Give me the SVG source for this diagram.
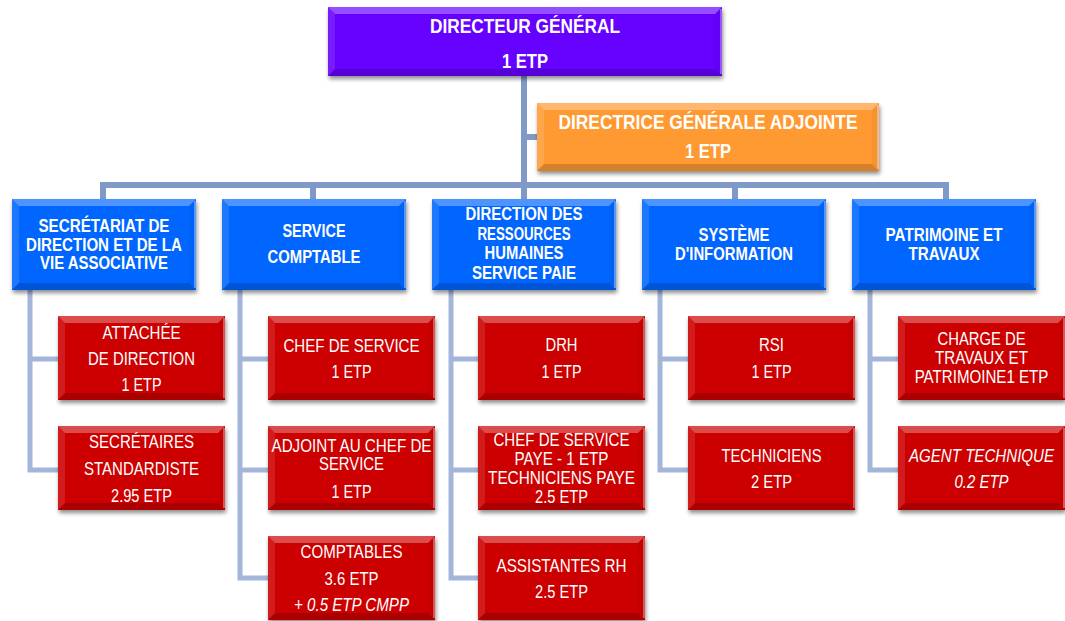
<svg xmlns="http://www.w3.org/2000/svg" xmlns:xlink="http://www.w3.org/1999/xlink" width="1065" height="621" viewBox="0 0 1065 621">
  <style>
    .t { font-family: "Liberation Sans", Arial, sans-serif; fill: #ffffff; text-anchor: middle; }
    .big { font-size: 21px; font-weight: bold; }
    .mid { font-size: 18px; font-weight: bold; }
    .sm { font-size: 18px; }
    .it { font-style: italic; }
    .bt { fill: #ffffff; fill-opacity: 0.30; }
    .bl { fill: #ffffff; fill-opacity: 0.12; }
    .bb { fill: #000000; fill-opacity: 0.16; }
    .br { fill: #000000; fill-opacity: 0.04; }
    .edge { stroke: #ffffff; stroke-opacity: 0.45; stroke-width: 1.5; }
    .link-main { fill: none; stroke: #7f99c8; stroke-width: 6; }
    .link-sub { fill: none; stroke: #a3b6da; stroke-width: 5; }
  </style>
  <defs>
    <filter id="shadow" x="-10%" y="-10%" width="125%" height="135%">
      <feGaussianBlur in="SourceAlpha" stdDeviation="2.2"/>
      <feOffset dx="1" dy="3" result="off"/>
      <feComponentTransfer><feFuncA type="linear" slope="0.45"/></feComponentTransfer>
      <feMerge><feMergeNode/><feMergeNode in="SourceGraphic"/></feMerge>
    </filter>
    <!-- bevelled box shapes, one per size -->
    <g id="box-dg">
      <rect width="394" height="69" fill="#6600ff"/>
      <polygon class="bt" points="0,0 394,0 387,7 7,7"/>
      <polygon class="bl" points="0,0 7,7 7,62 0,69"/>
      <polygon class="bb" points="0,69 7,62 387,62 394,69"/>
      <polygon class="br" points="394,0 394,69 387,62 387,7"/>
      <line class="edge" x1="393" y1="2" x2="393" y2="67"/>
    </g>
    <g id="box-dga">
      <rect width="342" height="68" fill="#ff9933"/>
      <polygon class="bt" points="0,0 342,0 335,7 7,7"/>
      <polygon class="bl" points="0,0 7,7 7,61 0,68"/>
      <polygon class="bb" points="0,68 7,61 335,61 342,68"/>
      <polygon class="br" points="342,0 342,68 335,61 335,7"/>
      <line class="edge" x1="341" y1="2" x2="341" y2="66"/>
    </g>
    <g id="box-blue">
      <rect width="184" height="91" fill="#0066ff"/>
      <polygon class="bt" points="0,0 184,0 177,7 7,7"/>
      <polygon class="bl" points="0,0 7,7 7,84 0,91"/>
      <polygon class="bb" points="0,91 7,84 177,84 184,91"/>
      <polygon class="br" points="184,0 184,91 177,84 177,7"/>
      <line class="edge" x1="183" y1="2" x2="183" y2="89"/>
    </g>
    <g id="box-red">
      <rect width="167" height="84" fill="#cc0000"/>
      <polygon class="bt" points="0,0 167,0 160,7 7,7"/>
      <polygon class="bl" points="0,0 7,7 7,77 0,84"/>
      <polygon class="bb" points="0,84 7,77 160,77 167,84"/>
      <polygon class="br" points="167,0 167,84 160,77 160,7"/>
      <line class="edge" x1="166" y1="2" x2="166" y2="82"/>
    </g>
  </defs>

  <rect width="1065" height="621" fill="#ffffff"/>

  <!-- connectors -->
  <g id="connectors">
    <path class="link-main" d="M524 76 V199 M524 137 H537 M103 199 V185 H946 V199 M313 185 V199 M735 185 V199"/>
    <path class="link-sub" d="M30 290 V470 H58 M30 359 H58"/>
    <path class="link-sub" d="M240 290 V578 H268 M240 359 H268 M240 470 H268"/>
    <path class="link-sub" d="M451 290 V578 H478 M451 359 H478 M451 470 H478"/>
    <path class="link-sub" d="M660 290 V470 H688 M660 359 H688"/>
    <path class="link-sub" d="M870 290 V470 H898 M870 359 H898"/>
  </g>

  <!-- top level -->
  <g id="dg">
    <use xlink:href="#box-dg" x="328" y="7" filter="url(#shadow)"/>
    <text class="t big" x="525" y="33" textLength="190" lengthAdjust="spacingAndGlyphs">DIRECTEUR GÉNÉRAL</text>
    <text class="t big" x="525" y="68" textLength="46" lengthAdjust="spacingAndGlyphs">1 ETP</text>
  </g>
  <g id="dga">
    <use xlink:href="#box-dga" x="537" y="103" filter="url(#shadow)"/>
    <text class="t big" x="708" y="129" textLength="299" lengthAdjust="spacingAndGlyphs">DIRECTRICE GÉNÉRALE ADJOINTE</text>
    <text class="t big" x="708" y="158" textLength="46" lengthAdjust="spacingAndGlyphs">1 ETP</text>
  </g>

  <!-- services -->
  <g id="svc-secretariat">
    <use xlink:href="#box-blue" x="12" y="199" filter="url(#shadow)"/>
    <text class="t mid" x="104" y="232" textLength="131" lengthAdjust="spacingAndGlyphs">SECRÉTARIAT DE</text>
    <text class="t mid" x="104" y="250.5" textLength="156" lengthAdjust="spacingAndGlyphs">DIRECTION ET DE LA</text>
    <text class="t mid" x="104" y="268.5" textLength="128" lengthAdjust="spacingAndGlyphs">VIE ASSOCIATIVE</text>
  </g>
  <g id="svc-comptable">
    <use xlink:href="#box-blue" x="222" y="199" filter="url(#shadow)"/>
    <text class="t mid" x="314" y="237" textLength="63" lengthAdjust="spacingAndGlyphs">SERVICE</text>
    <text class="t mid" x="314" y="263" textLength="93" lengthAdjust="spacingAndGlyphs">COMPTABLE</text>
  </g>
  <g id="svc-rh">
    <use xlink:href="#box-blue" x="432" y="199" filter="url(#shadow)"/>
    <text class="t mid" x="524" y="220" textLength="117" lengthAdjust="spacingAndGlyphs">DIRECTION DES</text>
    <text class="t mid" x="524" y="239.5" textLength="93" lengthAdjust="spacingAndGlyphs">RESSOURCES</text>
    <text class="t mid" x="524" y="259" textLength="79" lengthAdjust="spacingAndGlyphs">HUMAINES</text>
    <text class="t mid" x="524" y="278.5" textLength="104" lengthAdjust="spacingAndGlyphs">SERVICE PAIE</text>
  </g>
  <g id="svc-si">
    <use xlink:href="#box-blue" x="642" y="199" filter="url(#shadow)"/>
    <text class="t mid" x="734" y="240.5" textLength="71" lengthAdjust="spacingAndGlyphs">SYSTÈME</text>
    <text class="t mid" x="734" y="260" textLength="118" lengthAdjust="spacingAndGlyphs">D'INFORMATION</text>
  </g>
  <g id="svc-patrimoine">
    <use xlink:href="#box-blue" x="852" y="199" filter="url(#shadow)"/>
    <text class="t mid" x="944" y="240.5" textLength="117" lengthAdjust="spacingAndGlyphs">PATRIMOINE ET</text>
    <text class="t mid" x="944" y="260" textLength="71" lengthAdjust="spacingAndGlyphs">TRAVAUX</text>
  </g>

  <!-- staff: secrétariat -->
  <g id="attachee">
    <use xlink:href="#box-red" x="58" y="316" filter="url(#shadow)"/>
    <text class="t sm" x="141.5" y="338.5" textLength="78" lengthAdjust="spacingAndGlyphs">ATTACHÉE</text>
    <text class="t sm" x="141.5" y="364.5" textLength="107" lengthAdjust="spacingAndGlyphs">DE DIRECTION</text>
    <text class="t sm" x="141.5" y="391" textLength="40" lengthAdjust="spacingAndGlyphs">1 ETP</text>
  </g>
  <g id="secretaires">
    <use xlink:href="#box-red" x="58" y="426" filter="url(#shadow)"/>
    <text class="t sm" x="141.5" y="447.5" textLength="105" lengthAdjust="spacingAndGlyphs">SECRÉTAIRES</text>
    <text class="t sm" x="141.5" y="474.5" textLength="115" lengthAdjust="spacingAndGlyphs">STANDARDISTE</text>
    <text class="t sm" x="141.5" y="501.5" textLength="61" lengthAdjust="spacingAndGlyphs">2.95 ETP</text>
  </g>

  <!-- staff: comptabilité -->
  <g id="chef-compta">
    <use xlink:href="#box-red" x="268" y="316" filter="url(#shadow)"/>
    <text class="t sm" x="351.5" y="351.5" textLength="136" lengthAdjust="spacingAndGlyphs">CHEF DE SERVICE</text>
    <text class="t sm" x="351.5" y="378" textLength="40" lengthAdjust="spacingAndGlyphs">1 ETP</text>
  </g>
  <g id="adjoint-compta">
    <use xlink:href="#box-red" x="268" y="426" filter="url(#shadow)"/>
    <text class="t sm" x="351.5" y="451.5" textLength="160" lengthAdjust="spacingAndGlyphs">ADJOINT AU CHEF DE</text>
    <text class="t sm" x="351.5" y="470" textLength="65" lengthAdjust="spacingAndGlyphs">SERVICE</text>
    <text class="t sm" x="351.5" y="497.5" textLength="40" lengthAdjust="spacingAndGlyphs">1 ETP</text>
  </g>
  <g id="comptables">
    <use xlink:href="#box-red" x="268" y="536" filter="url(#shadow)"/>
    <text class="t sm" x="351.5" y="557.5" textLength="102" lengthAdjust="spacingAndGlyphs">COMPTABLES</text>
    <text class="t sm" x="351.5" y="584.5" textLength="54" lengthAdjust="spacingAndGlyphs">3.6 ETP</text>
    <text class="t sm it" x="351.5" y="610.5" textLength="115" lengthAdjust="spacingAndGlyphs">+ 0.5 ETP CMPP</text>
  </g>

  <!-- staff: ressources humaines -->
  <g id="drh">
    <use xlink:href="#box-red" x="478" y="316" filter="url(#shadow)"/>
    <text class="t sm" x="561.5" y="350.5" textLength="32" lengthAdjust="spacingAndGlyphs">DRH</text>
    <text class="t sm" x="561.5" y="377.5" textLength="40" lengthAdjust="spacingAndGlyphs">1 ETP</text>
  </g>
  <g id="paie">
    <use xlink:href="#box-red" x="478" y="426" filter="url(#shadow)"/>
    <text class="t sm" x="561.5" y="445.5" textLength="136" lengthAdjust="spacingAndGlyphs">CHEF DE SERVICE</text>
    <text class="t sm" x="561.5" y="465" textLength="94" lengthAdjust="spacingAndGlyphs">PAYE - 1 ETP</text>
    <text class="t sm" x="561.5" y="484" textLength="147" lengthAdjust="spacingAndGlyphs">TECHNICIENS PAYE</text>
    <text class="t sm" x="561.5" y="502.5" textLength="53" lengthAdjust="spacingAndGlyphs">2.5 ETP</text>
  </g>
  <g id="assistantes-rh">
    <use xlink:href="#box-red" x="478" y="536" filter="url(#shadow)"/>
    <text class="t sm" x="561.5" y="571.5" textLength="130" lengthAdjust="spacingAndGlyphs">ASSISTANTES RH</text>
    <text class="t sm" x="561.5" y="597.5" textLength="53" lengthAdjust="spacingAndGlyphs">2.5 ETP</text>
  </g>

  <!-- staff: système d'information -->
  <g id="rsi">
    <use xlink:href="#box-red" x="688" y="316" filter="url(#shadow)"/>
    <text class="t sm" x="771.5" y="350.5" textLength="25" lengthAdjust="spacingAndGlyphs">RSI</text>
    <text class="t sm" x="771.5" y="377.5" textLength="40" lengthAdjust="spacingAndGlyphs">1 ETP</text>
  </g>
  <g id="techniciens">
    <use xlink:href="#box-red" x="688" y="426" filter="url(#shadow)"/>
    <text class="t sm" x="771.5" y="461.5" textLength="100" lengthAdjust="spacingAndGlyphs">TECHNICIENS</text>
    <text class="t sm" x="771.5" y="488" textLength="41" lengthAdjust="spacingAndGlyphs">2 ETP</text>
  </g>

  <!-- staff: patrimoine et travaux (wide lines are condensed by scaling) -->
  <g id="charge-travaux">
    <use xlink:href="#box-red" x="898" y="316" filter="url(#shadow)"/>
    <text class="t sm" x="981.5" y="345" textLength="88" lengthAdjust="spacingAndGlyphs">CHARGE DE</text>
    <text class="t sm" x="981.5" y="364" textLength="93" lengthAdjust="spacingAndGlyphs">TRAVAUX ET</text>
    <text class="t sm" transform="translate(981.5 383) scale(0.84 1)" x="0" y="0">PATRIMOINE1 ETP</text>
  </g>
  <g id="agent-technique">
    <use xlink:href="#box-red" x="898" y="426" filter="url(#shadow)"/>
    <text class="t sm it" transform="translate(981.5 461.5) scale(0.84 1)" x="0" y="0">AGENT TECHNIQUE</text>
    <text class="t sm it" x="981.5" y="488" textLength="54" lengthAdjust="spacingAndGlyphs">0.2 ETP</text>
  </g>
</svg>
